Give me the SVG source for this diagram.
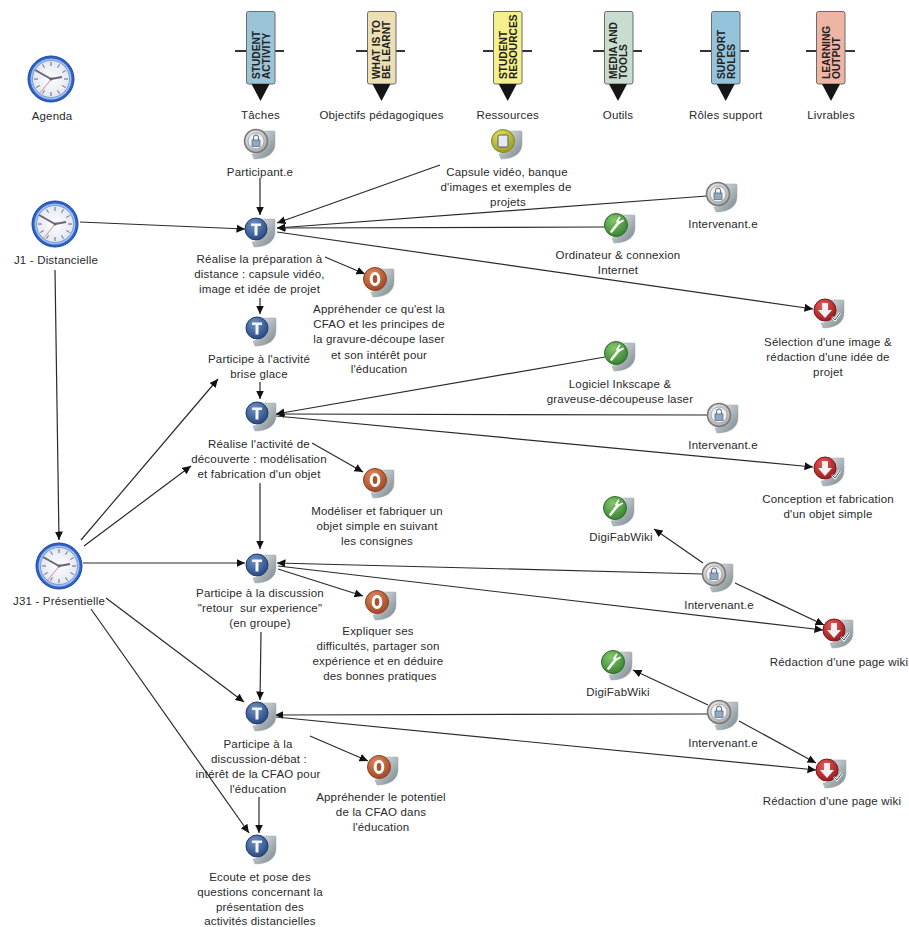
<svg xmlns="http://www.w3.org/2000/svg" width="909" height="927" viewBox="0 0 909 927">
<style>
text{font-family:"Liberation Sans",Arial,sans-serif;font-size:11.5px;fill:#2a2a2a;text-anchor:middle;letter-spacing:.18px;white-space:pre}
text.b{font-weight:bold;font-size:10.2px;text-anchor:start;fill:#222;letter-spacing:0}
.c line{stroke:#2a2a2a;stroke-width:1.2;marker-end:url(#a)}
.tick{stroke:#333;stroke-width:2}
.bn{stroke:#6b6b6b;stroke-width:1}
</style>
<defs>
<marker id="a" markerUnits="userSpaceOnUse" markerWidth="10" markerHeight="10" refX="8.500" refY="4" orient="auto"><path d="M0,0L8.500,4L0,8Z" fill="#111"/></marker>
<linearGradient id="sh" x1="0" y1="0" x2="1" y2="1"><stop offset="0" stop-color="#e8ecee"/><stop offset="1" stop-color="#76848a"/></linearGradient>
<radialGradient id="gg" cx=".4" cy=".35" r=".75"><stop offset="0" stop-color="#f8f8f8"/><stop offset="1" stop-color="#a0a0a0"/></radialGradient>
<radialGradient id="gb" cx=".4" cy=".3" r=".8"><stop offset="0" stop-color="#6f93c6"/><stop offset="1" stop-color="#1f3f78"/></radialGradient>
<radialGradient id="gy" cx=".4" cy=".3" r=".8"><stop offset="0" stop-color="#e6e65a"/><stop offset="1" stop-color="#8c9020"/></radialGradient>
<radialGradient id="gr" cx=".4" cy=".3" r=".8"><stop offset="0" stop-color="#84c868"/><stop offset="1" stop-color="#2f7a2c"/></radialGradient>
<radialGradient id="go" cx=".4" cy=".3" r=".8"><stop offset="0" stop-color="#e08a60"/><stop offset="1" stop-color="#98401f"/></radialGradient>
<radialGradient id="gd" cx=".4" cy=".3" r=".8"><stop offset="0" stop-color="#ea5a5a"/><stop offset="1" stop-color="#8e1418"/></radialGradient>
<radialGradient id="fc" cx=".5" cy=".5" r=".5"><stop offset="0" stop-color="#fff"/><stop offset="1" stop-color="#e2e6f0"/></radialGradient>
<path id="s" d="M5-10H18a1,1 0 0 1 1,1V3C19,12 11,18-2,18L-4,13C8,12 11,3 5-10Z" fill="url(#sh)" stroke="#9aa4a8" stroke-width=".5"/>
<g id="lock"><use href="#s"/><circle r="11.500" fill="url(#gg)" stroke="#777" stroke-width="1.500"/><circle r="8" fill="#eef0f2" stroke="#999" stroke-width=".8"/><rect x="-4" y="-1" width="8" height="6.500" fill="#8fa9c4" stroke="#456" stroke-width=".6"/><path d="M-2.500-1V-3.500a2.500,2.500 0 0 1 5,0V-1" fill="none" stroke="#567"/></g>
<g id="res"><use href="#s"/><circle r="11.500" fill="url(#gy)" stroke="#86882a"/><rect x="-5" y="-6" width="10" height="12" rx="1.500" fill="#e4eaf4" stroke="#556"/></g>
<g id="tool"><use href="#s"/><circle r="11.500" fill="url(#gr)" stroke="#2e6b2c"/><path d="M-4.500,6.500L3-3" stroke="#fff" stroke-width="2.600" stroke-linecap="round"/><path d="M1-3.500L3.500-7.500M3-2L7-4.500" stroke="#fff" stroke-width="1.800" stroke-linecap="round"/></g>
<g id="task"><use href="#s"/><circle r="11" fill="url(#gb)" stroke="#1f3a6a"/><path d="M-5-5.500H5V-3H1.500V6.500H-1.500V-3H-5Z" fill="#f4f6fa"/></g>
<g id="obj"><use href="#s"/><circle r="11.500" fill="url(#go)" stroke="#8e4020"/><ellipse rx="3.800" ry="5.500" fill="#a8522c" stroke="#fff" stroke-width="3"/></g>
<g id="out"><use href="#s"/><circle r="11" fill="url(#gd)" stroke="#801418"/><path d="M-3-7H3V0H7L0,8L-7,0H-3Z" fill="#f6f0f0"/><path d="M7,7L10,10L15,3" stroke="#fff" stroke-width="2.400" fill="none"/><path d="M7,7L10,10L15,3" stroke="#556" stroke-width="1" fill="none"/></g>
<g id="clock"><circle r="23" fill="#2f62c8" stroke="#1d43a0"/><circle r="20.500" fill="#9cc0f2"/><circle r="18.500" fill="url(#fc)" stroke="#5c78b8" stroke-width=".6"/><path d="M0-17V-13M0,17V13M-17,0H-13M17,0H13M-8.500-14.700L-6.500-11.300M8.500-14.700L6.500-11.300M-8.500,14.700L-6.500,11.300M8.500,14.700L6.500,11.300M-14.700-8.500L-11.300-6.500M14.700-8.500L11.300-6.500M-14.700,8.500L-11.300,6.500M14.700,8.500L11.300,6.500" stroke="#667"/><path d="M0,0L-16-9" stroke="#667" stroke-width="2"/><path d="M0,0L11-2" stroke="#667" stroke-width="2"/><path d="M2-2L-12,15" stroke="#d08080" stroke-width=".9"/><circle r="1.600" fill="#667"/></g>
<path id="pt" d="M-9,0H9L0,17Z" fill="#151515"/>
</defs>

<g id="connectors" class="c">
<line x1="260" y1="178" x2="260" y2="215"/>
<line x1="440" y1="165" x2="277" y2="223"/>
<line x1="707" y1="196" x2="277" y2="228"/>
<line x1="605" y1="227" x2="277" y2="228"/>
<line x1="277" y1="232" x2="813" y2="309"/>
<line x1="80" y1="222" x2="245" y2="229"/>
<line x1="55" y1="270" x2="59" y2="540"/>
<line x1="325" y1="257" x2="365" y2="274"/>
<line x1="260" y1="298" x2="260" y2="314"/>
<line x1="260" y1="382" x2="260" y2="399"/>
<line x1="81" y1="540" x2="218" y2="379"/>
<line x1="84" y1="546" x2="191" y2="466"/>
<line x1="83" y1="563" x2="245" y2="563"/>
<line x1="260" y1="483" x2="260" y2="549"/>
<line x1="605" y1="357" x2="276" y2="414"/>
<line x1="707" y1="415" x2="276" y2="414"/>
<line x1="276" y1="416" x2="813" y2="467"/>
<line x1="312" y1="443" x2="363" y2="472"/>
<line x1="703" y1="574" x2="277" y2="563"/>
<line x1="278" y1="566" x2="823" y2="630"/>
<line x1="703" y1="563" x2="654" y2="529"/>
<line x1="735" y1="583" x2="824" y2="625"/>
<line x1="278" y1="569" x2="363" y2="596"/>
<line x1="261" y1="632" x2="260" y2="700"/>
<line x1="106" y1="598" x2="244" y2="702"/>
<line x1="91" y1="609" x2="249" y2="833"/>
<line x1="259" y1="797" x2="259" y2="833"/>
<line x1="708" y1="714" x2="275" y2="715"/>
<line x1="276" y1="717" x2="816" y2="770"/>
<line x1="708" y1="705" x2="633" y2="670"/>
<line x1="739" y1="721" x2="816" y2="763"/>
<line x1="310" y1="736" x2="368" y2="761"/>
</g>

<g id="h1"><path class="tick" d="M235,51H284"/><rect class="bn" x="246.500" y="11.500" width="28.500" height="72.500" rx="2" fill="#9cc4d8"/><use href="#pt" x="260.500" y="84"/><text class="b" transform="translate(260,79) rotate(-90)">STUDENT</text><text class="b" transform="translate(270,79) rotate(-90)">ACTIVITY</text><text x="260.500" y="119">Tâches</text></g>
<g id="h2"><path class="tick" d="M356,51H405"/><rect class="bn" x="367.500" y="11.500" width="28.500" height="72.500" rx="2" fill="#ecdfb4"/><use href="#pt" x="381.500" y="84"/><text class="b" transform="translate(380,79) rotate(-90)">WHAT IS TO</text><text class="b" transform="translate(390,79) rotate(-90)">BE LEARNT</text><text x="381.500" y="119">Objectifs pédagogiques</text></g>
<g id="h3"><path class="tick" d="M483,51H532"/><rect class="bn" x="493.500" y="11.500" width="28.500" height="72.500" rx="2" fill="#f6f08c"/><use href="#pt" x="507.700" y="84"/><text class="b" transform="translate(507,79) rotate(-90)">STUDENT</text><text class="b" transform="translate(517,79) rotate(-90)">RESOURCES</text><text x="507.700" y="119">Ressources</text></g>
<g id="h4"><path class="tick" d="M593,51H642"/><rect class="bn" x="604.500" y="11.500" width="28.500" height="72.500" rx="2" fill="#c8dcd0"/><use href="#pt" x="618" y="84"/><text class="b" transform="translate(617,79) rotate(-90)">MEDIA AND</text><text class="b" transform="translate(627,79) rotate(-90)">TOOLS</text><text x="618" y="119">Outils</text></g>
<g id="h5"><path class="tick" d="M700,51H749"/><rect class="bn" x="711.500" y="11.500" width="28.500" height="72.500" rx="2" fill="#94c4dc"/><use href="#pt" x="725.700" y="84"/><text class="b" transform="translate(724.500,79) rotate(-90)">SUPPORT</text><text class="b" transform="translate(735,79) rotate(-90)">ROLES</text><text x="725.700" y="119">Rôles support</text></g>
<g id="h6"><path class="tick" d="M806,51H855"/><rect class="bn" x="816.500" y="11.500" width="28.500" height="72.500" rx="2" fill="#eeb4a4"/><use href="#pt" x="831" y="84"/><text class="b" transform="translate(830,79) rotate(-90)">LEARNING</text><text class="b" transform="translate(840,79) rotate(-90)">OUTPUT</text><text x="831" y="119">Livrables</text></g>

<g id="agenda"><use href="#clock" x="51" y="79"/><text x="52" y="120">Agenda</text></g>
<g id="j1"><use href="#clock" x="55" y="224"/><text x="56" y="264">J1 - Distancielle</text></g>
<g id="j31"><use href="#clock" x="59" y="566"/><text x="59" y="605">J31 - Présentielle</text></g>

<g id="n1"><use href="#lock" x="256" y="141"/><text x="260" y="175.500">Participant.e</text></g>
<g id="n2"><use href="#res" x="503" y="141"/><text x="507" y="175.500">Capsule vidéo, banque</text><text x="506" y="190.500">d'images et exemples de</text><text x="508" y="205.500">projets</text></g>
<g id="n3"><use href="#lock" x="718" y="194"/><text x="723" y="228">Intervenant.e</text></g>
<g id="n4"><use href="#tool" x="616" y="225"/><text x="618" y="259">Ordinateur &amp; connexion</text><text x="618" y="274">Internet</text></g>
<g id="t1"><use href="#task" x="256" y="229"/><text x="259.500" y="263">Réalise la préparation à</text><text x="259.500" y="278">distance : capsule vidéo,</text><text x="259.500" y="293">image et idée de projet</text></g>
<g id="o1"><use href="#obj" x="375" y="279"/><text x="379" y="313">Appréhender ce qu'est la</text><text x="379" y="328">CFAO et les principes de</text><text x="379" y="343">la gravure-découpe laser</text><text x="379" y="358.500">et son intérêt pour</text><text x="379" y="373">l'éducation</text></g>
<g id="r1"><use href="#out" x="825" y="310"/><text x="828" y="346">Sélection d'une image &amp;</text><text x="828" y="361">rédaction d'une idée de</text><text x="828" y="376">projet</text></g>
<g id="t2"><use href="#task" x="257" y="328"/><text x="259" y="363">Participe à l'activité</text><text x="259" y="378">brise glace</text></g>
<g id="n5"><use href="#tool" x="616" y="353"/><text x="620" y="388">Logiciel Inkscape &amp;</text><text x="620" y="403">graveuse-découpeuse laser</text></g>
<g id="n6"><use href="#lock" x="719" y="415"/><text x="723" y="449">Intervenant.e</text></g>
<g id="t3"><use href="#task" x="257" y="413"/><text x="259" y="448">Réalise l'activité de</text><text x="259" y="463">découverte : modélisation</text><text x="259" y="478">et fabrication d'un objet</text></g>
<g id="o2"><use href="#obj" x="375" y="480"/><text x="377" y="515">Modéliser et fabriquer un</text><text x="377" y="530">objet simple en suivant</text><text x="377" y="545">les consignes</text></g>
<g id="r2"><use href="#out" x="825" y="468"/><text x="828" y="503">Conception et fabrication</text><text x="828" y="518">d'un objet simple</text></g>
<g id="n7"><use href="#tool" x="615" y="508"/><text x="621" y="541">DigiFabWiki</text></g>
<g id="n8"><use href="#lock" x="714" y="574"/><text x="719" y="609">Intervenant.e</text></g>
<g id="t4"><use href="#task" x="257" y="565"/><text x="260" y="597">Participe à la discussion</text><text x="260" y="612">"retour  sur experience"</text><text x="260" y="627">(en groupe)</text></g>
<g id="o3"><use href="#obj" x="377" y="602"/><text x="378" y="635">Expliquer ses</text><text x="378" y="650">difficultés, partager son</text><text x="378" y="665">expérience et en déduire</text><text x="380" y="680">des bonnes pratiques</text></g>
<g id="r3"><use href="#out" x="834" y="630"/><text x="839" y="666">Rédaction d'une page wiki</text></g>
<g id="n9"><use href="#tool" x="613" y="662"/><text x="618" y="696">DigiFabWiki</text></g>
<g id="n10"><use href="#lock" x="719" y="712"/><text x="723" y="747">Intervenant.e</text></g>
<g id="t5"><use href="#task" x="257" y="713"/><text x="258" y="748">Participe à la</text><text x="259" y="763">discussion-débat :</text><text x="258" y="778">intérêt de la CFAO pour</text><text x="258" y="793">l'éducation</text></g>
<g id="o4"><use href="#obj" x="379" y="767"/><text x="381" y="801">Appréhender le potentiel</text><text x="381" y="816">de la CFAO dans</text><text x="381" y="831">l'éducation</text></g>
<g id="r4"><use href="#out" x="827" y="770"/><text x="832" y="805">Rédaction d'une page wiki</text></g>
<g id="t6"><use href="#task" x="257" y="846"/><text x="260" y="881">Ecoute et pose des</text><text x="260" y="896">questions concernant la</text><text x="260" y="911">présentation des</text><text x="260" y="925">activités distancielles</text></g>
</svg>
